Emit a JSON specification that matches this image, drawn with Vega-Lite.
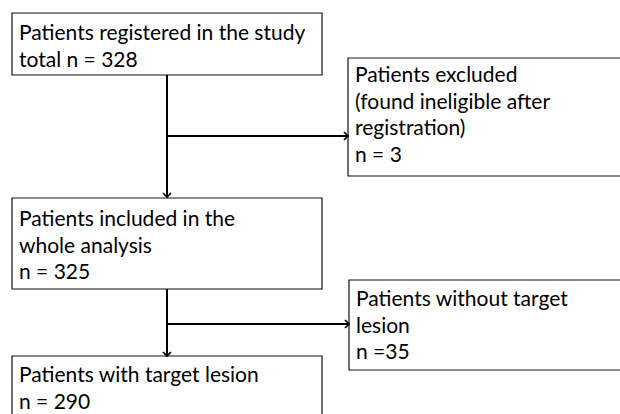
{
  "$schema": "https://vega.github.io/schema/vega-lite/v6.json",
  "width": 620,
  "height": 414,
  "autosize": {"type": "fit", "contains": "padding"},
  "padding": 0,
  "background": "white",
  "view": {"stroke": null},
  "config": {"legend": {"disable": true}},
  "datasets": {
    "boxes": [
      {"id": "registered", "x0": 12, "x1": 322, "y0": 13, "y1": 75},
      {"id": "excluded", "x0": 348, "x1": 630, "y0": 58, "y1": 176},
      {"id": "included", "x0": 12, "x1": 322, "y0": 198, "y1": 289},
      {"id": "without", "x0": 349, "x1": 630, "y0": 280, "y1": 370},
      {"id": "with", "x0": 12, "x1": 322, "y0": 356, "y1": 430}
    ],
    "links": [
      {"x0": 167, "x1": 167, "y0": 75, "y1": 196},
      {"x0": 167, "x1": 347, "y0": 136, "y1": 136},
      {"x0": 167, "x1": 167, "y0": 289, "y1": 355},
      {"x0": 167, "x1": 348, "y0": 324, "y1": 324}
    ],
    "heads": [
      {"x": 167, "y": 197, "dir": "down"},
      {"x": 348, "y": 136, "dir": "right"},
      {"x": 167, "y": 356, "dir": "down"},
      {"x": 349, "y": 324, "dir": "right"}
    ],
    "labels": [
      {"x": 19, "y": 40, "t": "Patients registered in the study\ntotal n = 328"},
      {"x": 355, "y": 82, "t": "Patients excluded\n(found ineligible after\nregistration)\nn = 3"},
      {"x": 19, "y": 226, "t": "Patients included in the\nwhole analysis\nn = 325"},
      {"x": 356, "y": 306, "t": "Patients without target\nlesion\nn =35"},
      {"x": 19, "y": 382, "t": "Patients with target lesion\nn = 290"}
    ]
  },
  "encoding": {
    "x": {"type": "quantitative", "scale": {"domain": [0, 620], "nice": false, "zero": false}, "axis": null},
    "y": {"type": "quantitative", "scale": {"domain": [0, 414], "nice": false, "zero": false, "reverse": true}, "axis": null}
  },
  "layer": [
    {
      "data": {"name": "boxes"},
      "mark": {"type": "rect", "fill": "white", "stroke": "#111111", "strokeWidth": 1.2, "clip": true},
      "encoding": {
        "x": {"field": "x0", "type": "quantitative"},
        "x2": {"field": "x1"},
        "y": {"field": "y0", "type": "quantitative"},
        "y2": {"field": "y1"}
      }
    },
    {
      "data": {"name": "links"},
      "mark": {"type": "rule", "color": "black", "strokeWidth": 2},
      "encoding": {
        "x": {"field": "x0", "type": "quantitative"},
        "x2": {"field": "x1"},
        "y": {"field": "y0", "type": "quantitative"},
        "y2": {"field": "y1"}
      }
    },
    {
      "data": {"name": "heads"},
      "mark": {"type": "point", "filled": false, "stroke": "black", "strokeWidth": 1.7, "size": 64, "opacity": 1},
      "encoding": {
        "x": {"field": "x", "type": "quantitative"},
        "y": {"field": "y", "type": "quantitative"},
        "shape": {"field": "dir", "type": "nominal", "scale": {"domain": ["down", "right"], "range": ["M-1,-1L0,0L1,-1", "M-1,-1L0,0L-1,1"]}, "legend": null}
      }
    },
    {
      "data": {"name": "labels"},
      "mark": {"type": "text", "align": "left", "baseline": "alphabetic", "lineBreak": "\n", "lineHeight": 26.5, "font": "Lato", "fontSize": 21, "color": "black"},
      "encoding": {
        "x": {"field": "x", "type": "quantitative"},
        "y": {"field": "y", "type": "quantitative"},
        "text": {"field": "t", "type": "nominal"}
      }
    }
  ]
}
